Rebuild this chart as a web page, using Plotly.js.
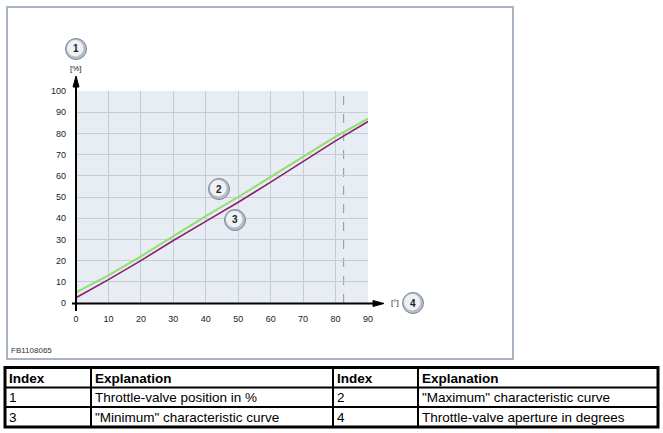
<!DOCTYPE html>
<html>
<head>
<meta charset="utf-8">
<script src="https://cdn.plot.ly/plotly-3.0.1.min.js"></script>
<style>
html,body{margin:0;padding:0;background:#fff;}
#chart{width:663px;height:433px;}
</style>
</head>
<body>
<div id="chart"></div>
<script>
// ---- data ----
var apertureDeg = [0, 10, 20, 30, 40, 50, 60, 70, 80, 90];
var maxCurve = [5, 13, 22, 31.5, 41, 50, 59.5, 69, 78.5, 87];
var minCurve = [2.5, 11, 20, 29.5, 38.5, 47.5, 57, 66.8, 76.5, 85.6];
var xTicks = [0, 10, 20, 30, 40, 50, 60, 70, 80, 90];
var yTicks = [0, 10, 20, 30, 40, 50, 60, 70, 80, 90, 100];
var markerLine = 82.5;
var calloutLabels = ['1', '2', '3', '4'];
var tableHeader = ['Index', 'Explanation', 'Index', 'Explanation'];
var tableRow1 = ['1', 'Throttle-valve position in %', '2', '"Maximum" characteristic curve'];
var tableRow2 = ['3', '"Minimum" characteristic curve', '4', 'Throttle-valve aperture in degrees'];
var figureId = 'FB1108065';

// ---- layout helpers (pixel -> paper) ----
var L = 76, R = 295, T = 91, B = 130, Wt = 663, Ht = 433;
var W = Wt - L - R, H = Ht - T - B;
function px(x) { return (x - L) / W; }
function py(y) { return (Ht - B - y) / H; }

var shapes = [];
var annotations = [];

// outer frame
shapes.push({type: 'rect', xref: 'paper', yref: 'paper', x0: px(7), x1: px(513), y0: py(359), y1: py(7),
  line: {color: '#a9b4c2', width: 2}, fillcolor: 'rgba(0,0,0,0)', layer: 'below'});

// dashed marker line
shapes.push({type: 'line', xref: 'x', yref: 'paper', x0: markerLine, x1: markerLine, y0: 0, y1: 1,
  line: {color: '#8a95a5', width: 1, dash: 'dash'}, layer: 'below'});

// axis lines (black)
shapes.push({type: 'line', xref: 'paper', yref: 'paper', x0: px(72), x1: px(376), y0: py(303.5), y1: py(303.5),
  line: {color: '#000', width: 2}});
shapes.push({type: 'line', xref: 'paper', yref: 'paper', x0: px(76), x1: px(76), y0: py(311), y1: py(84),
  line: {color: '#000', width: 2}});
// arrow heads
shapes.push({type: 'path', xref: 'paper', yref: 'paper',
  path: 'M' + px(373) + ',' + py(300.5) + ' L' + px(384) + ',' + py(303.5) + ' L' + px(373) + ',' + py(306.5) + ' Z',
  fillcolor: '#000', line: {color: '#000', width: 1}});
shapes.push({type: 'path', xref: 'paper', yref: 'paper',
  path: 'M' + px(73) + ',' + py(87) + ' L' + px(76) + ',' + py(76) + ' L' + px(79) + ',' + py(87) + ' Z',
  fillcolor: '#000', line: {color: '#000', width: 1}});

// callout circles
var calloutPos = [[76, 49], [219, 189], [235, 220], [413, 303]];
calloutPos.forEach(function (p, i) {
  shapes.push({type: 'circle', xref: 'paper', yref: 'paper', xsizemode: 'pixel', ysizemode: 'pixel',
    xanchor: px(p[0]), yanchor: py(p[1]), x0: -10.5, x1: 10.5, y0: -10.5, y1: 10.5,
    fillcolor: '#b4bdc8', line: {color: '#7d8896', width: 1}});
  shapes.push({type: 'circle', xref: 'paper', yref: 'paper', xsizemode: 'pixel', ysizemode: 'pixel',
    xanchor: px(p[0]), yanchor: py(p[1]), x0: -9, x1: 7.5, y0: -7.5, y1: 9,
    fillcolor: '#eef1f5', line: {width: 0}});
  annotations.push({xref: 'paper', yref: 'paper', x: px(p[0]), y: py(p[1]), text: '<b>' + calloutLabels[i] + '</b>',
    showarrow: false, xanchor: 'center', yanchor: 'middle', font: {family: 'Liberation Sans, Arial', size: 10, color: '#222'}});
});

// unit labels
annotations.push({xref: 'paper', yref: 'paper', x: px(76), y: py(69), text: '[%]', showarrow: false,
  xanchor: 'center', yanchor: 'middle', font: {family: 'Liberation Sans, Arial', size: 8, color: '#222'}});
annotations.push({xref: 'paper', yref: 'paper', x: px(395), y: py(302), text: '[°]', showarrow: false,
  xanchor: 'center', yanchor: 'middle', font: {family: 'Liberation Sans, Arial', size: 8, color: '#222'}});
annotations.push({xref: 'paper', yref: 'paper', x: px(9), y: py(350), text: figureId, showarrow: false,
  xanchor: 'left', yanchor: 'middle', font: {family: 'Liberation Sans, Arial', size: 8, color: '#333'}});

// table
var colX = [5, 91, 333, 418, 658];
var rowY = [367.5, 387.5, 407, 427];
shapes.push({type: 'rect', xref: 'paper', yref: 'paper', x0: px(colX[0]), x1: px(colX[4]), y0: py(rowY[3]), y1: py(rowY[0]),
  line: {color: '#000', width: 3}, fillcolor: 'rgba(0,0,0,0)'});
for (var c = 1; c < 4; c++) {
  shapes.push({type: 'line', xref: 'paper', yref: 'paper', x0: px(colX[c]), x1: px(colX[c]), y0: py(rowY[3]), y1: py(rowY[0]),
    line: {color: '#000', width: 2}});
}
for (var r = 1; r < 3; r++) {
  shapes.push({type: 'line', xref: 'paper', yref: 'paper', x0: px(colX[0]), x1: px(colX[4]), y0: py(rowY[r]), y1: py(rowY[r]),
    line: {color: '#000', width: 2}});
}
var rows = [tableHeader, tableRow1, tableRow2];
rows.forEach(function (row, ri) {
  row.forEach(function (txt, ci) {
    annotations.push({xref: 'paper', yref: 'paper', x: px(colX[ci] + 2), y: py((rowY[ri] + rowY[ri + 1]) / 2 + 0.5),
      text: ri === 0 ? '<b>' + txt + '</b>' : txt, showarrow: false, xanchor: 'left', yanchor: 'middle',
      font: {family: 'Liberation Sans Narrow, Arial Narrow, Liberation Sans, Arial', size: 13.5, color: '#000'}});
  });
});

var traces = [
  {x: apertureDeg, y: maxCurve, type: 'scatter', mode: 'lines', name: 'Maximum',
   line: {color: '#8fe06c', width: 2}, hoverinfo: 'skip'},
  {x: apertureDeg, y: minCurve, type: 'scatter', mode: 'lines', name: 'Minimum',
   line: {color: '#8b1e6e', width: 1.6}, hoverinfo: 'skip'}
];

var axisFont = {family: 'Liberation Sans, Arial', size: 9, color: '#222'};
var layout = {
  width: Wt, height: Ht,
  margin: {l: L, r: R, t: T, b: B, pad: 0},
  paper_bgcolor: '#fff',
  plot_bgcolor: '#e8edf3',
  showlegend: false,
  xaxis: {range: [0, 90], tickvals: xTicks, ticktext: xTicks.map(String), showgrid: true, gridcolor: '#c4ccd6', gridwidth: 1,
    zeroline: false, showline: false, ticks: '', tickfont: axisFont, ticklabelstandoff: 9, fixedrange: true},
  yaxis: {range: [0, 100], tickvals: yTicks, ticktext: yTicks.map(String), showgrid: true, gridcolor: '#c4ccd6', gridwidth: 1,
    zeroline: false, showline: false, ticks: '', tickfont: axisFont, ticklabelstandoff: 9, fixedrange: true},
  shapes: shapes,
  annotations: annotations
};

Plotly.newPlot('chart', traces, layout, {staticPlot: true, displayModeBar: false});
</script>
</body>
</html>
